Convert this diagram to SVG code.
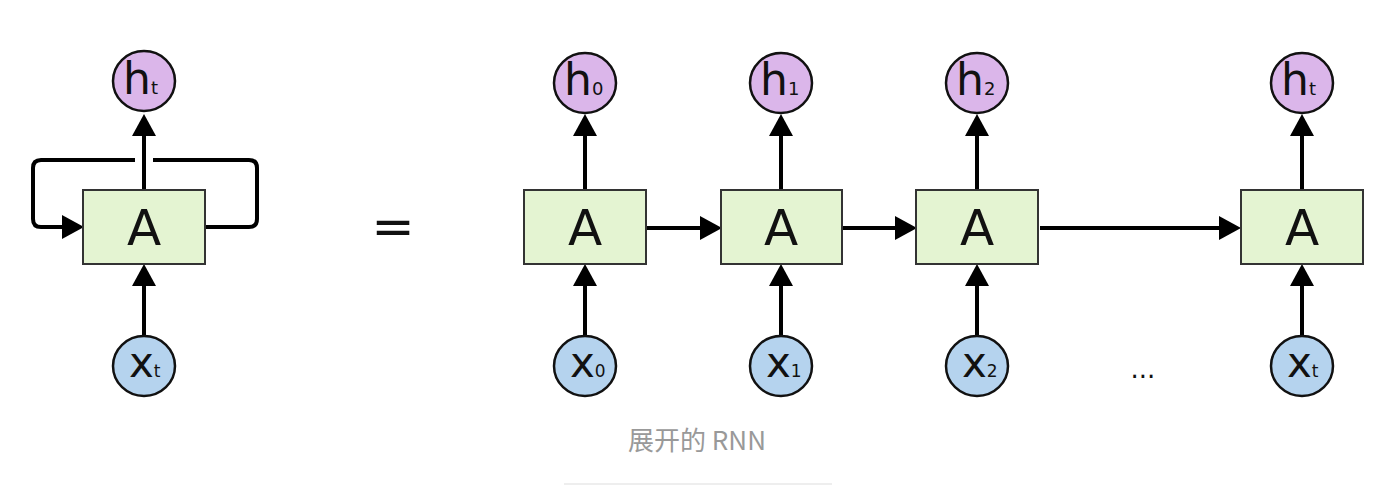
<svg xmlns="http://www.w3.org/2000/svg" width="1394" height="486" viewBox="0 0 1394 486">
<defs>
<style>
.box{fill:#e4f4d2;stroke:#333;stroke-width:2}
.hc{fill:#dbb6ea;stroke:#111;stroke-width:2.5}
.xc{fill:#b5d3ee;stroke:#111;stroke-width:2.5}
.ln{fill:none;stroke:#000;stroke-width:4}
.arr{marker-end:url(#ah)}
.big{font-family:"DejaVu Sans",sans-serif;fill:#111}
.hs{font-size:18px}
.xs{font-size:17px}
.cap{font-family:"Noto Sans CJK SC","Noto Sans",sans-serif;font-size:26px;fill:#999}
</style>
<marker id="ah" markerWidth="22" markerHeight="24" refX="0" refY="12" orient="auto" markerUnits="userSpaceOnUse">
<path d="M0,0 L22,12 L0,24 z" fill="#000"/>
</marker>
</defs>
<rect width="1394" height="486" fill="#fff"/>

<g id="connectors">
<path class="ln arr" d="M144,190 V136"/>
<path class="ln arr" d="M144,336 V286"/>
<path class="ln" d="M205,227 H249 Q257,227 257,219 V168 Q257,160 249,160 H153"/>
<path class="ln arr" d="M135,160 H41 Q33,160 33,168 V219 Q33,227 41,227 H62"/>
<path class="ln arr" d="M585,190 V136"/>
<path class="ln arr" d="M585,336 V286"/>
<path class="ln arr" d="M781,190 V136"/>
<path class="ln arr" d="M781,336 V286"/>
<path class="ln arr" d="M977,190 V136"/>
<path class="ln arr" d="M977,336 V286"/>
<path class="ln arr" d="M1302,190 V136"/>
<path class="ln arr" d="M1302,336 V286"/>
<path class="ln arr" d="M647,228 H700"/>
<path class="ln arr" d="M843,228 H895"/>
<path class="ln arr" d="M1040,228 H1219"/>
</g>

<g id="A_fold">
<rect class="box" x="83" y="190" width="122" height="74"/>
<text class="big" x="144" y="245" font-size="50" text-anchor="middle">A</text>
</g>
<g id="h_t_fold">
<ellipse class="hc" cx="144" cy="81" rx="31" ry="30"/>
<text class="big" x="123" y="94" font-size="44">h<tspan class="hs">t</tspan></text>
</g>
<g id="x_t_fold">
<ellipse class="xc" cx="144" cy="366" rx="31" ry="30"/>
<text class="big" x="129" y="377" font-size="42">x<tspan class="xs">t</tspan></text>
</g>

<g id="equals">
<text class="big" x="393" y="244" font-size="52" text-anchor="middle">=</text>
</g>

<g id="A0">
<rect class="box" x="524" y="190" width="122" height="74"/>
<text class="big" x="585" y="245" font-size="50" text-anchor="middle">A</text>
</g>
<g id="h0">
<ellipse class="hc" cx="585" cy="83" rx="31" ry="30"/>
<text class="big" x="564" y="95" font-size="44">h<tspan class="hs">0</tspan></text>
</g>
<g id="x0">
<ellipse class="xc" cx="585" cy="366" rx="31" ry="30"/>
<text class="big" x="570" y="377" font-size="42">x<tspan class="xs">0</tspan></text>
</g>

<g id="A1">
<rect class="box" x="721" y="190" width="121" height="74"/>
<text class="big" x="781" y="245" font-size="50" text-anchor="middle">A</text>
</g>
<g id="h1">
<ellipse class="hc" cx="781" cy="83" rx="31" ry="30"/>
<text class="big" x="760" y="95" font-size="44">h<tspan class="hs">1</tspan></text>
</g>
<g id="x1">
<ellipse class="xc" cx="781" cy="366" rx="31" ry="30"/>
<text class="big" x="766" y="377" font-size="42">x<tspan class="xs">1</tspan></text>
</g>

<g id="A2">
<rect class="box" x="916" y="190" width="122" height="74"/>
<text class="big" x="977" y="245" font-size="50" text-anchor="middle">A</text>
</g>
<g id="h2">
<ellipse class="hc" cx="977" cy="83" rx="31" ry="30"/>
<text class="big" x="956" y="95" font-size="44">h<tspan class="hs">2</tspan></text>
</g>
<g id="x2">
<ellipse class="xc" cx="977" cy="366" rx="31" ry="30"/>
<text class="big" x="962" y="377" font-size="42">x<tspan class="xs">2</tspan></text>
</g>

<g id="At">
<rect class="box" x="1241" y="190" width="122" height="74"/>
<text class="big" x="1302" y="245" font-size="50" text-anchor="middle">A</text>
</g>
<g id="ht">
<ellipse class="hc" cx="1302" cy="83" rx="31" ry="30"/>
<text class="big" x="1281" y="95" font-size="44">h<tspan class="hs">t</tspan></text>
</g>
<g id="xt">
<ellipse class="xc" cx="1302" cy="366" rx="31" ry="30"/>
<text class="big" x="1287" y="377" font-size="42">x<tspan class="xs">t</tspan></text>
</g>

<g id="ellipsis">
<text class="big" x="1143" y="378" font-size="26" text-anchor="middle">...</text>
</g>

<g id="caption">
<text class="cap" x="697" y="450" text-anchor="middle">展开的 RNN</text>
<rect x="564" y="483" width="268" height="2" fill="#eeeeee"/>
</g>
</svg>
